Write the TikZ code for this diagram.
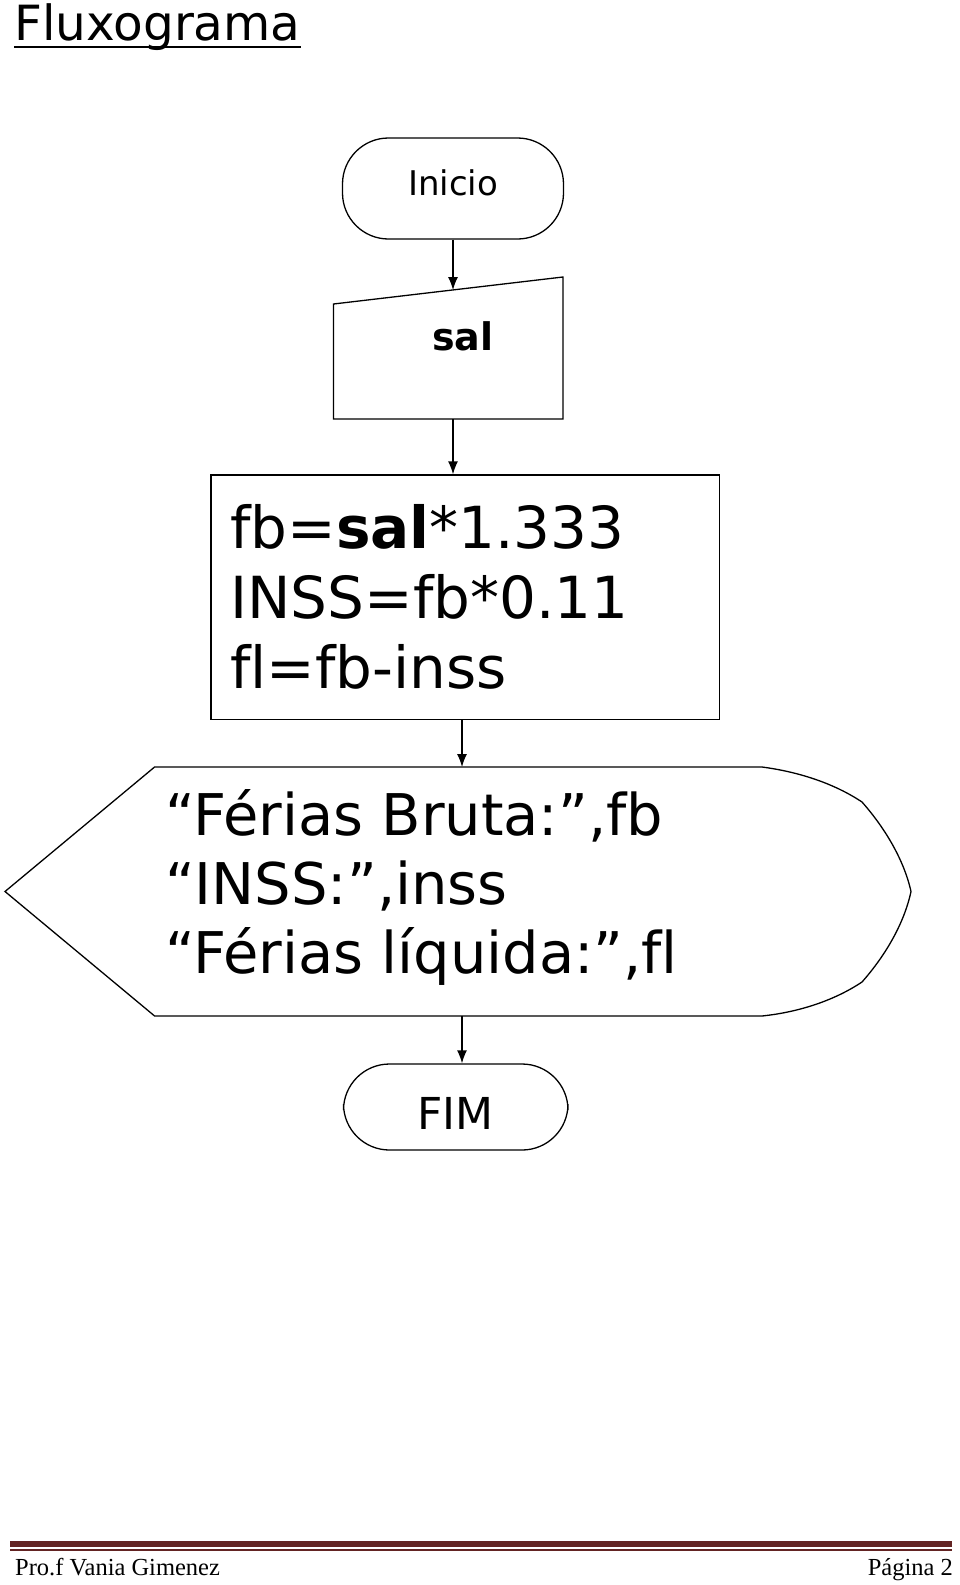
\documentclass[tikz,border=0pt]{standalone}
\usepackage{fontspec}
\setmainfont{DejaVu Sans}[Ligatures=NoCommon]
\newfontfamily\rodape{Liberation Serif}
\usetikzlibrary{arrows.meta}
\definecolor{marrom}{RGB}{99,36,35}

\begin{document}
\begin{tikzpicture}[x=1pt, y=-1pt,
  contorno/.style = {draw = black, line width = 1.3pt},
  seta/.style = {line width = 1.3pt, -{Latex[length=13pt,width=10pt]}},
  terminal/.style = {contorno, rounded corners = 46pt, inner sep = 0pt},
  texto/.style = {inner sep = 0pt, align = left},
]
\useasboundingbox (0,0) rectangle (960,1585);
\node[texto, anchor = base west, font = \fontsize{48.5}{58}\selectfont] (titulo) at (14,40.5) {Fluxograma};
\draw[line width = 2.6pt] ([yshift=-6.5pt]titulo.base west) -- ([yshift=-6.5pt]titulo.base east);

\node[terminal, minimum width = 221pt, minimum height = 101pt, text depth = 12pt, font = \fontsize{34}{40}\selectfont] (inicio) at (453,188.5) {Inicio};

\draw[contorno] (333.5,304) -- (563,277) -- (563,419) -- (333.5,419) -- cycle;
\node[texto, anchor = base, font = \fontsize{38}{44}\selectfont\bfseries] (sal) at (463,350.5) {sal};
\coordinate (entrada-n) at (453,290);
\coordinate (entrada-s) at (453,419);

\node[contorno, minimum width = 508.5pt, minimum height = 244.5pt, text width = 470pt, inner xsep = 19pt, align = left, font = \fontsize{58}{70}\selectfont] (calc) at (465.25,597.25) {fb=\textbf{sal}*1.333\\INSS=fb*0.11\\fl=fb-inss};

\draw[contorno] (5,891.5) -- (154.6,767) -- (762,767) .. controls (800,772) and (835,784) .. (862,802) .. controls (885,828) and (904,860) .. (911,891.5) .. controls (904,924) and (885,956) .. (862,982) .. controls (835,1000) and (800,1012) .. (762,1016) -- (154.6,1016) -- cycle;
\node[texto, anchor = base west, font = \fontsize{57.5}{69}\selectfont] (saida) at (165,973) {“Férias Bruta:”,fb\\“INSS:”,inss\\“Férias líquida:”,fl};
\coordinate (exibe-n) at (462,767);
\coordinate (exibe-s) at (462,1016);

\node[terminal, minimum width = 224.5pt, minimum height = 86pt, text height = 44pt, font = \fontsize{44}{52}\selectfont] (fim) at (455.75,1107) {FIM};

\draw[seta] (inicio.south) -- (entrada-n);
\draw[seta] (entrada-s) -- (entrada-s |- calc.north);
\draw[seta] (calc.south -| exibe-n) -- (exibe-n);
\draw[seta] (exibe-s) -- (exibe-s |- fim.north);

\draw[marrom, line width = 5.5pt] (10,1544) -- (952,1544);
\draw[marrom, line width = 1.2pt] (10,1550) -- (952,1550);
\node[texto, anchor = base west, font = \rodape\fontsize{24.5}{28}\selectfont] (autor) at (15,1575) {Pro.f Vania Gimenez};
\node[texto, anchor = base east, font = \rodape\fontsize{24.5}{28}\selectfont] (pagina) at (953,1575) {Página 2};
\end{tikzpicture}
\end{document}
